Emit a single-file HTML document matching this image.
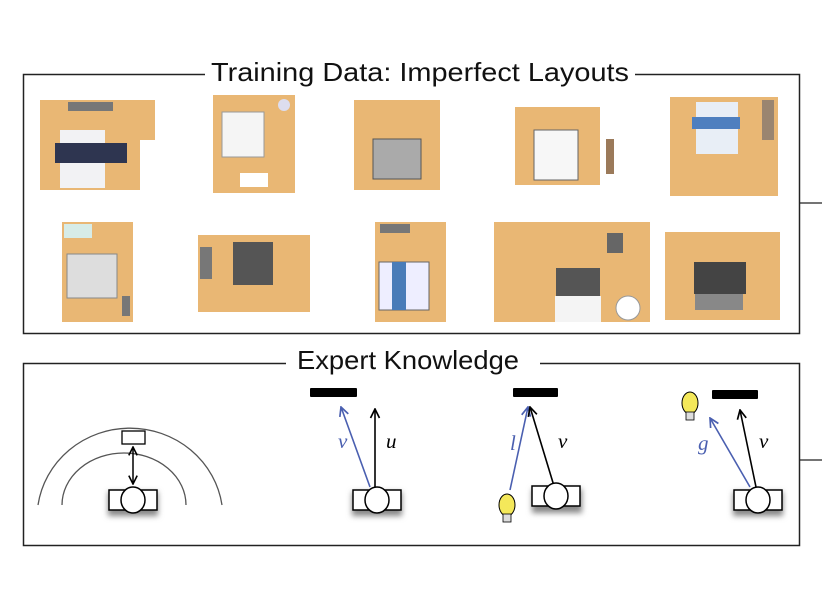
<!DOCTYPE html>
<html><head><meta charset="utf-8"><style>html,body{margin:0;padding:0;background:#fff}svg{display:block}</style></head><body>
<svg width="822" height="600" viewBox="0 0 822 600" xmlns="http://www.w3.org/2000/svg" font-family="Liberation Sans, sans-serif">
<defs>
<marker id="ak" viewBox="0 0 10 10" refX="9" refY="5" markerWidth="7" markerHeight="7" orient="auto-start-reverse"><path d="M1,1 L9,5 L1,9" fill="none" stroke="#000" stroke-width="1.5"/></marker>
<marker id="ab" viewBox="0 0 10 10" refX="9" refY="5" markerWidth="7" markerHeight="7" orient="auto"><path d="M1,1 L9,5 L1,9" fill="none" stroke="#4a5fb0" stroke-width="1.5"/></marker>
<filter id="sh" x="-50%" y="-50%" width="200%" height="200%"><feGaussianBlur stdDeviation="3"/></filter>
<g id="person"><rect x="-24" y="-10" width="48" height="20" fill="#fff" stroke="#000" stroke-width="1.5"/><ellipse cx="0" cy="0" rx="12" ry="13" fill="#fff" stroke="#000" stroke-width="1.5"/></g>
<g id="bulb"><ellipse cx="0" cy="0" rx="8" ry="11" fill="#f4e85a" stroke="#000" stroke-width="1"/><rect x="-4" y="9" width="8" height="8" fill="#ddd" stroke="#000" stroke-width="0.8"/></g>
</defs>
<!-- top panel -->
<rect x="23.5" y="74.5" width="776" height="259" fill="#fff" stroke="#222" stroke-width="1.5"/>
<line x1="799" y1="203" x2="822" y2="203" stroke="#222" stroke-width="1.2"/>
<rect x="205" y="58" width="430" height="30" fill="#fff"/>
<text x="420" y="81" font-size="26" text-anchor="middle" fill="#111" textLength="418" lengthAdjust="spacingAndGlyphs">Training Data: Imperfect Layouts</text>
<g fill="#e9b774">
<path d="M40,100 H155 V140 H140 V190 H40 Z"/>
<rect x="213" y="95" width="82" height="98"/>
<rect x="354" y="100" width="86" height="90"/>
<rect x="515" y="107" width="85" height="78"/>
<rect x="670" y="97" width="108" height="99"/>
<rect x="62" y="222" width="71" height="100"/>
<rect x="198" y="235" width="112" height="77"/>
<rect x="375" y="222" width="71" height="100"/>
<rect x="494" y="222" width="156" height="100"/>
<rect x="665" y="232" width="115" height="88"/>
</g>
<g>
<rect x="68" y="102" width="45" height="9" fill="#777"/>
<rect x="60" y="130" width="45" height="58" fill="#f2f2f4"/><rect x="55" y="143" width="72" height="20" fill="#2e3550"/>
<rect x="222" y="112" width="42" height="45" fill="#f5f5f5" stroke="#999"/><rect x="240" y="173" width="28" height="14" fill="#fff"/><circle cx="284" cy="105" r="6" fill="#dde"/>
<rect x="373" y="139" width="48" height="40" fill="#aaa" stroke="#555"/>
<rect x="534" y="130" width="44" height="50" fill="#f7f7f7" stroke="#666"/><rect x="606" y="139" width="8" height="35" fill="#9b7a5a"/>
<rect x="696" y="102" width="42" height="52" fill="#e8eef6"/><rect x="692" y="117" width="48" height="12" fill="#4e7fbf"/><rect x="762" y="100" width="12" height="40" fill="#9a8570"/>
<rect x="64" y="224" width="28" height="14" fill="#d7ece7"/><rect x="67" y="254" width="50" height="44" fill="#ddd" stroke="#888"/><rect x="122" y="296" width="8" height="20" fill="#777"/>
<rect x="233" y="242" width="40" height="43" fill="#555"/><rect x="200" y="247" width="12" height="32" fill="#777"/>
<rect x="380" y="224" width="30" height="9" fill="#777"/><rect x="379" y="262" width="50" height="48" fill="#eef" stroke="#666"/><rect x="392" y="262" width="14" height="48" fill="#4a7cb8"/>
<rect x="556" y="268" width="44" height="30" fill="#555"/><rect x="555" y="296" width="46" height="26" fill="#f4f4f4"/><circle cx="628" cy="308" r="12" fill="#fff" stroke="#999"/><rect x="607" y="233" width="16" height="20" fill="#666"/>
<rect x="694" y="262" width="52" height="32" fill="#444"/><rect x="695" y="294" width="48" height="16" fill="#888"/>
</g>
<!-- bottom panel -->
<rect x="23.5" y="363.5" width="776" height="182" fill="#fff" stroke="#222" stroke-width="1.5"/>
<line x1="799" y1="460" x2="822" y2="460" stroke="#222" stroke-width="1.2"/>
<rect x="286" y="346" width="254" height="30" fill="#fff"/>
<text x="408" y="369" font-size="26" text-anchor="middle" fill="#111" textLength="222" lengthAdjust="spacingAndGlyphs">Expert Knowledge</text>
<!-- scene 1 -->
<path d="M38,505 A93,90 0 0 1 222,505" fill="none" stroke="#555" stroke-width="1.3"/>
<path d="M62,505 A62,52 0 0 1 186,505" fill="none" stroke="#555" stroke-width="1.3"/>
<rect x="122" y="431" width="23" height="13" fill="#fff" stroke="#000" stroke-width="1.3"/>
<line x1="133" y1="447" x2="133" y2="484" stroke="#000" stroke-width="1.5" marker-start="url(#ak)" marker-end="url(#ak)"/>
<rect x="108" y="492" width="50" height="24" fill="#888" filter="url(#sh)"/>
<use href="#person" x="133" y="500"/>
<!-- scene 2 -->
<rect x="310" y="388" width="47" height="9" fill="#000" rx="1"/>
<line x1="370" y1="487" x2="341" y2="407" stroke="#4a5fb0" stroke-width="1.6" marker-end="url(#ab)"/>
<line x1="375" y1="487" x2="375" y2="409" stroke="#000" stroke-width="1.6" marker-end="url(#ak)"/>
<text x="338" y="448" font-size="21" font-style="italic" fill="#4a5fb0" font-family="Liberation Serif, serif">v</text>
<text x="386" y="448" font-size="21" font-style="italic" fill="#000" font-family="Liberation Serif, serif">u</text>
<rect x="352" y="492" width="50" height="24" fill="#888" filter="url(#sh)"/>
<use href="#person" x="377" y="500"/>
<!-- scene 3 -->
<rect x="513" y="388" width="45" height="9" fill="#000" rx="1"/>
<line x1="510" y1="490" x2="528" y2="407" stroke="#4a5fb0" stroke-width="1.6" marker-end="url(#ab)"/>
<line x1="554" y1="486" x2="530" y2="407" stroke="#000" stroke-width="1.6" marker-end="url(#ak)"/>
<text x="510" y="450" font-size="21" font-style="italic" fill="#4a5fb0" font-family="Liberation Serif, serif">l</text>
<text x="558" y="448" font-size="21" font-style="italic" fill="#000" font-family="Liberation Serif, serif">v</text>
<rect x="532" y="489" width="50" height="24" fill="#888" filter="url(#sh)"/>
<use href="#person" x="556" y="496"/>
<use href="#bulb" x="507" y="505"/>
<!-- scene 4 -->
<rect x="712" y="390" width="46" height="9" fill="#000" rx="1"/>
<line x1="750" y1="487" x2="710" y2="418" stroke="#4a5fb0" stroke-width="1.6" marker-end="url(#ab)"/>
<line x1="756" y1="487" x2="740" y2="410" stroke="#000" stroke-width="1.6" marker-end="url(#ak)"/>
<text x="698" y="450" font-size="21" font-style="italic" fill="#4a5fb0" font-family="Liberation Serif, serif">g</text>
<text x="759" y="448" font-size="21" font-style="italic" fill="#000" font-family="Liberation Serif, serif">v</text>
<rect x="733" y="492" width="50" height="24" fill="#888" filter="url(#sh)"/>
<use href="#person" x="758" y="500"/>
<use href="#bulb" x="690" y="403"/>
</svg>
</body></html>
